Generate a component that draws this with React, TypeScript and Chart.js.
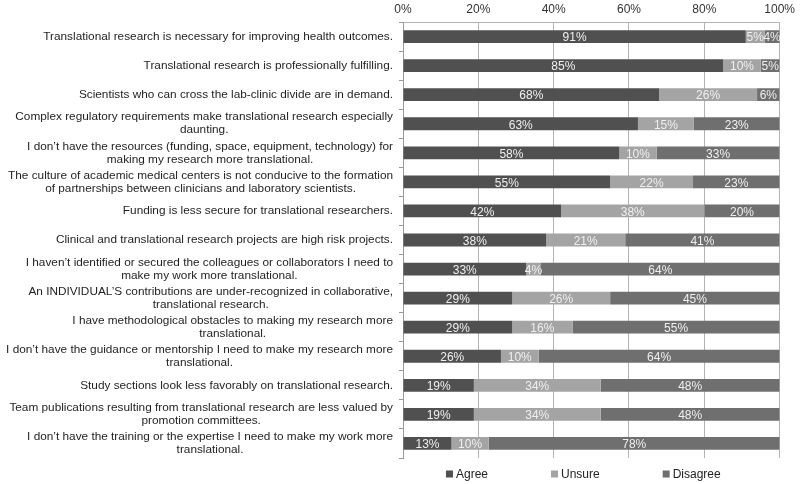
import { useEffect, useRef } from "react";
import { Chart, registerables } from "chart.js";

Chart.register(...registerables);

const categories: (string | string[])[] = [
  "Translational research is necessary for improving health outcomes.",
  "Translational research is professionally fulfilling.",
  "Scientists who can cross the lab-clinic divide are in demand.",
  ["Complex regulatory requirements make translational research especially", "daunting."],
  ["I don’t have the resources (funding, space, equipment, technology) for", "making my research more translational."],
  ["The culture of academic medical centers is not conducive to the formation", "of partnerships between clinicians and laboratory scientists."],
  "Funding is less secure for translational researchers.",
  "Clinical and translational research projects are high risk projects.",
  ["I haven’t identified or secured the colleagues or collaborators I need to", "make my work more translational."],
  ["An INDIVIDUAL’S contributions are under-recognized in collaborative,", "translational research."],
  ["I have methodological obstacles to making my research more", "translational."],
  ["I don’t have the guidance or mentorship I need to make my research more", "translational."],
  "Study sections look less favorably on translational research.",
  ["Team publications resulting from translational research are less valued by", "promotion committees."],
  ["I don’t have the training or the expertise I need to make my work more", "translational."],
];

const agree = [91, 85, 68, 63, 58, 55, 42, 38, 33, 29, 29, 26, 19, 19, 13];
const unsure = [5, 10, 26, 15, 10, 22, 38, 21, 4, 26, 16, 10, 34, 34, 10];
const disagree = [4, 5, 6, 23, 33, 23, 20, 41, 64, 45, 55, 64, 48, 48, 78];

const seriesNames = ["Agree", "Unsure", "Disagree"];
const seriesColors = ["#505050", "#a4a4a4", "#6f6f6f"];
const xTickValues = [0, 20, 40, 60, 80, 100];

const FONT = '"Liberation Sans", Arial, sans-serif';

export default function App() {
  const ref = useRef<HTMLCanvasElement | null>(null);

  useEffect(() => {
    if (!ref.current) return;
    const raw = [agree, unsure, disagree];
    const totals = agree.map((a, i) => a + unsure[i] + disagree[i]);
    const datasets = raw.map((arr, k) => ({
      label: seriesNames[k],
      data: arr.map((v, i) => (v * 100) / totals[i]),
      backgroundColor: seriesColors[k],
      borderWidth: 0,
      barPercentage: 0.44,
      categoryPercentage: 1,
    }));

    const valueLabels = {
      id: "valueLabels",
      afterDatasetsDraw(chart: any) {
        const ctx = chart.ctx;
        ctx.save();
        ctx.font = `12px ${FONT}`;
        ctx.fillStyle = "#f0f0f0";
        ctx.textAlign = "center";
        ctx.textBaseline = "middle";
        chart.data.datasets.forEach((ds: any, k: number) => {
          const meta = chart.getDatasetMeta(k);
          meta.data.forEach((bar: any, i: number) => {
            const cx = (bar.x + bar.base) / 2;
            ctx.fillText(raw[k][i] + "%", cx, bar.y + 1.5);
          });
        });
        ctx.restore();
      },
    };

    const yLabels = {
      id: "yLabels",
      afterDraw(chart: any) {
        const ctx = chart.ctx;
        const ys = chart.scales.y;
        ctx.save();
        ctx.font = `11.8px ${FONT}`;
        ctx.fillStyle = "#1e1e1e";
        ctx.textAlign = "center";
        ctx.textBaseline = "middle";
        categories.forEach((c, i) => {
          const lines = Array.isArray(c) ? c : [c];
          const maxW = Math.max(...lines.map((l) => ctx.measureText(l).width));
          const cx = ys.right - 10 - maxW / 2;
          const cy = ys.getPixelForTick(i);
          lines.forEach((l, j) => {
            ctx.fillText(l, cx, cy + (j - (lines.length - 1) / 2) * 13);
          });
        });
        ctx.restore();
      },
    };

    const legendPlugin = {
      id: "customLegend",
      afterDraw(chart: any) {
        const ctx = chart.ctx;
        ctx.save();
        ctx.font = `12px ${FONT}`;
        ctx.textBaseline = "middle";
        ctx.textAlign = "left";
        const box = 7;
        const gapText = 3;
        const gapItem = 63;
        const widths = seriesNames.map((n) => box + gapText + ctx.measureText(n).width);
        const total = widths.reduce((a, b) => a + b, 0) + gapItem * (widths.length - 1);
        const area = chart.chartArea;
        let x = (area.left + area.right) / 2 - 8 - total / 2;
        const y = 474;
        seriesNames.forEach((n, k) => {
          ctx.fillStyle = seriesColors[k];
          ctx.fillRect(x, y - 3.5, box, box);
          ctx.fillStyle = "#222";
          ctx.fillText(n, x + box + gapText, y + 0.5);
          x += widths[k] + gapItem;
        });
        ctx.restore();
      },
    };

    const chart = new Chart(ref.current, {
      type: "bar",
      data: {
        labels: categories.map((c) => (Array.isArray(c) ? c : [c])),
        datasets,
      },
      options: {
        indexAxis: "y",
        animation: false,
        responsive: false,
        layout: { padding: { left: 0, right: 19, top: 0, bottom: 26 } },
        plugins: {
          legend: { display: false },
          tooltip: { enabled: false },
        },
        scales: {
          x: {
            position: "top",
            stacked: true,
            min: 0,
            max: 100,
            afterBuildTicks(scale: any) {
              scale.ticks = xTickValues.map((v) => ({ value: v }));
            },
            afterFit(scale: any) {
              scale.height = 22;
            },
            ticks: {
              callback: (v: any) => v + "%",
              font: { family: FONT, size: 12 },
              color: "#333",
              padding: 5,
              maxRotation: 0,
            },
            grid: { color: "#b4b4b4", drawTicks: false, lineWidth: 1 },
            border: { display: true, color: "#b4b4b4" },
          },
          y: {
            stacked: true,
            afterFit(scale: any) {
              scale.width = 403;
            },
            ticks: {
              color: "rgba(0,0,0,0)",
              font: { family: FONT, size: 11 },
              autoSkip: false,
            },
            grid: {
              offset: true,
              drawOnChartArea: false,
              tickLength: 4,
              color: "#999",
            },
            border: { display: true, color: "#999" },
          },
        },
      },
      plugins: [valueLabels, yLabels, legendPlugin],
    });
    return () => chart.destroy();
  }, []);

  return (
    <div style={{ position: "absolute", left: 0, top: 0, width: 800, height: 484, background: "#fff" }}>
      <canvas ref={ref} width={800} height={484} />
    </div>
  );
}
